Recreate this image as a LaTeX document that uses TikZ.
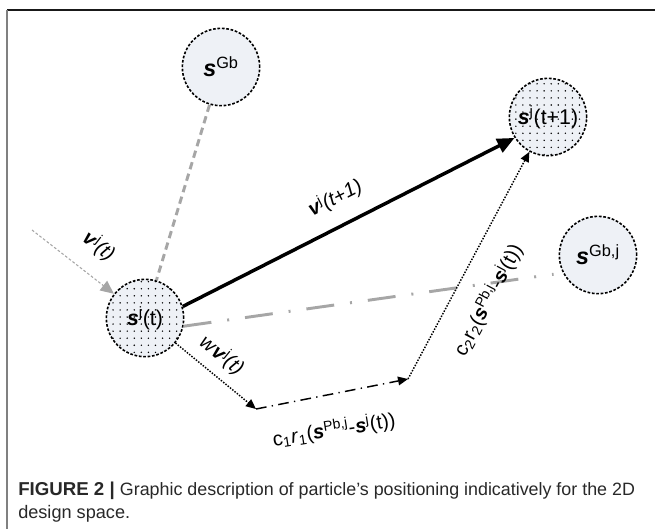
\documentclass[tikz,border=0pt]{standalone}
\usepackage{fontspec}
\setmainfont{Liberation Sans}
\usetikzlibrary{arrows.meta,patterns.meta,calc}
\definecolor{cfill}{RGB}{238,241,246}
\definecolor{lgray}{RGB}{166,166,166}
\definecolor{capc}{RGB}{40,40,40}
\newcommand{\bs}{\textbf{\textit{s}}}
\newcommand{\bv}{\textbf{\textit{v}}}
\begin{document}
\begin{tikzpicture}[x=0.75pt,y=-0.75pt,
  particle/.style={circle, draw=black, line width=1.2pt, dash pattern=on 2pt off 1.3pt,
    minimum size=58pt, inner sep=0pt, fill=cfill, font=\fontsize{16}{18}\selectfont},
  bigs/.style={font=\fontsize{17.5}{19}\selectfont},
  dotfill/.style={preaction={fill=cfill}, pattern={Dots[distance=5.3pt,radius=0.6pt]}, pattern color=black},
  lbl/.style={font=\fontsize{15}{17}\selectfont, inner sep=0pt},
  captxt/.style={anchor=base west, inner sep=0pt, text=capc},
  bigarrow/.style={line width=2.6pt, -{Triangle[length=13pt,width=11pt]}},
  bdot/.style={line width=1.1pt, dash pattern=on 1.1pt off 1.1pt, -{Triangle[length=7.5pt,width=6.5pt]}},
  bdashdot/.style={line width=1.1pt, dash pattern=on 8pt off 4pt on 1pt off 4pt, -{Triangle[length=7.5pt,width=6.5pt]}},
  gin/.style={draw=lgray, line width=0.8pt, dash pattern=on 2pt off 1.5pt, -{Triangle[length=10pt,width=9pt,fill=lgray]}},
  gdash/.style={draw=lgray, line width=2.2pt, dash pattern=on 5.5pt off 3.5pt},
  gdashdot/.style={draw=lgray, line width=2.2pt, dash pattern=on 21pt off 12pt on 1.5pt off 12pt},
]
\useasboundingbox (0,0) rectangle (655,529);
% frame
\draw[line width=1pt, black!90] (7,10) -- (655,10);
\draw[line width=1.5pt, gray] (7,10) -- (7,529);

% particles
\node[particle, bigs] (sgb) at (221,67) {\bs\textsuperscript{Gb}};
\node[particle, dotfill] (sjt) at (145,318) {\bs\textsuperscript{j}(t)};
\node[particle, dotfill] (sjt1) at (548,117) {\bs\textsuperscript{j}(t+1)};
\node[particle, bigs] (sgbj) at (598,255) {\bs\textsuperscript{Gb,j}};

\coordinate (vin) at (32,230);
\coordinate (c1) at (256,409);
\coordinate (c2) at (408,379);

% connectors
\draw[gdash] (sgb) -- (sjt);
\draw[gdashdot, shorten >=7pt] (sjt.-12) -- (sgbj.207);
\draw[gin] (vin) -- (sjt);
\draw[bigarrow] (sjt.17) -- (sjt1.212);
\draw[bdot] (sjt) -- (c1);
\draw[bdashdot] (c1) -- (c2);
\draw[bdot] (c2) -- (sjt1);

% labels
\node[lbl, rotate=-38] (lvt) at (99,246) {\bv\textsuperscript{j}\textit{(t)}};
\node[lbl, rotate=-39] (lwv) at (222,355) {\textit{w}\bv\textsuperscript{j}\textit{(t)}};
\node[lbl, rotate=27] (lvt1) at (335,198) {\bv\textsuperscript{j}\textit{(t+1)}};
\node[lbl, rotate=9] (lc1) at (334,430) {c\textsubscript{1}\textit{r}\textsubscript{1}(\bs\textsuperscript{Pb,j}-\bs\textsuperscript{j}(t))};
\node[lbl, rotate=62] (lc2) at (488,300) {c\textsubscript{2}r\textsubscript{2}(\bs\textsuperscript{Pb,j}-\bs\textsuperscript{j}(t))};

% caption
\node[captxt] (cap1) at (18,495) {\fontsize{14}{16}\selectfont\textbf{FIGURE 2 |} {\fontsize{13.4}{16}\selectfont Graphic description of particle’s positioning indicatively for the 2D}};
\node[captxt] (cap2) at (18,518) {\fontsize{13.6}{16}\selectfont design space.};
\end{tikzpicture}
\end{document}
